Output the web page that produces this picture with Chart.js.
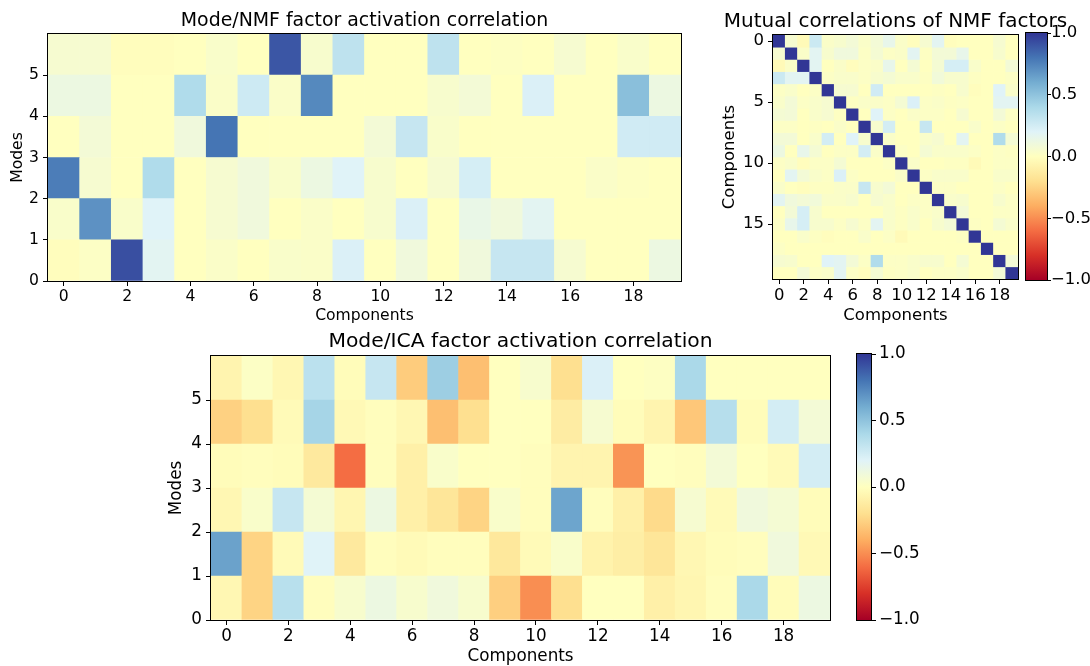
<!DOCTYPE html>
<html><head><meta charset="utf-8">
<script src="https://cdn.jsdelivr.net/npm/chart.js@4.4.1/dist/chart.umd.min.js"></script>
<style>
html,body{margin:0;padding:0;background:#fff;overflow:hidden;width:1090px;height:666px;position:relative;}
canvas{position:absolute;}
</style></head><body>
<canvas id="nmfAct"></canvas>
<canvas id="nmfMutualChart"></canvas>
<canvas id="cbarTop"></canvas>
<canvas id="icaAct"></canvas>
<canvas id="cbarBottom"></canvas>
<script>
// ---------- DATA ----------
const components = ['0','1','2','3','4','5','6','7','8','9','10','11','12','13','14','15','16','17','18','19'];
const componentTicks = [0, 2, 4, 6, 8, 10, 12, 14, 16, 18];
const modeTicks = [0, 1, 2, 3, 4, 5];
const mutualTicks = [0, 5, 10, 15];
const cbarTicks = [-1, -0.5, 0, 0.5, 1];

// Mode/NMF factor activation correlation (mode 0 .. mode 5)
const nmfMode0 = [-0.01, 0.02, 0.92, 0.18, 0.0, 0.03, 0.0, 0.04, 0.03, 0.22, 0.0, 0.1, 0.0, 0.1, 0.3, 0.3, 0.06, 0.0, 0.0, 0.12];
const nmfMode1 = [0.04, 0.7, 0.04, 0.2, 0.0, 0.06, 0.1, 0.0, 0.03, 0.0, 0.05, 0.22, 0.0, 0.14, 0.1, 0.18, 0.0, 0.0, 0.0, 0.0];
const nmfMode2 = [0.77, 0.06, 0.0, 0.38, 0.0, 0.06, 0.1, 0.04, 0.12, 0.2, 0.05, 0.0, 0.06, 0.24, 0.0, 0.0, 0.0, 0.03, 0.01, 0.0];
const nmfMode3 = [0.0, 0.08, 0.0, 0.0, 0.1, 0.8, 0.0, 0.0, 0.0, 0.0, 0.08, 0.3, 0.04, 0.0, 0.0, 0.0, 0.0, 0.0, 0.26, 0.26];
const nmfMode4 = [0.12, 0.12, 0.0, 0.0, 0.38, 0.03, 0.27, 0.03, 0.73, 0.0, 0.0, 0.0, 0.05, 0.08, 0.0, 0.22, 0.0, 0.0, 0.52, 0.12];
const nmfMode5 = [0.06, 0.06, -0.01, -0.01, 0.0, 0.04, 0.0, 0.9, 0.05, 0.33, 0.0, 0.0, 0.33, 0.0, 0.01, 0.0, 0.06, 0.0, 0.04, 0.0];

// Mode/ICA factor activation correlation (mode 0 .. mode 5)
const icaMode0 = [-0.05, -0.25, 0.35, -0.01, 0.05, 0.12, 0.05, 0.1, 0.05, -0.27, -0.5, -0.2, 0.0, 0.0, -0.1, -0.06, -0.01, 0.4, -0.02, 0.12];
const icaMode1 = [0.64, -0.25, -0.03, 0.2, -0.14, -0.01, -0.03, -0.01, -0.01, -0.15, -0.03, 0.04, -0.08, -0.11, -0.16, -0.05, -0.02, -0.01, 0.1, -0.04];
const icaMode2 = [-0.05, 0.04, 0.3, 0.07, -0.06, 0.12, -0.1, -0.16, -0.25, 0.04, -0.01, 0.63, -0.01, -0.1, -0.22, 0.06, -0.03, 0.1, 0.07, -0.02];
const icaMode3 = [-0.02, -0.01, -0.02, -0.14, -0.6, -0.01, -0.1, 0.04, 0.0, 0.0, -0.01, -0.07, -0.07, -0.48, 0.0, -0.01, 0.08, 0.0, -0.03, 0.25];
const icaMode4 = [-0.26, -0.2, -0.03, 0.42, -0.04, -0.01, -0.05, -0.33, -0.2, 0.0, 0.0, -0.12, 0.06, -0.02, -0.07, -0.3, 0.36, -0.02, 0.25, 0.08];
const icaMode5 = [-0.07, 0.02, -0.05, 0.34, -0.02, 0.3, -0.28, 0.45, -0.33, 0.0, 0.05, -0.2, 0.22, 0.0, 0.01, 0.4, 0.0, 0.0, 0.0, 0.0];

// Mutual correlations of NMF factors (row 0 .. row 19)
const nmfMutual = [
  [1, 0.06, -0.03, 0.28, 0.03, 0.05, 0.08, 0.03, 0.08, 0.15, 0.03, -0.01, 0.06, 0.18, -0.01, 0.0, 0.0, 0.0, 0.06, 0.0],
  [0.06, 1, 0.03, 0.18, 0.05, 0.1, 0.1, 0.02, 0.07, 0.02, 0.03, 0.18, 0.01, 0.08, 0.08, 0.15, 0.0, 0.0, 0.05, 0.0],
  [-0.03, 0.03, 1, 0.18, 0.0, 0.03, -0.01, 0.02, 0.03, 0.15, 0.0, 0.07, 0.0, 0.07, 0.24, 0.24, 0.04, 0.0, 0.0, 0.08],
  [0.28, 0.18, 0.18, 1, 0.02, 0.04, 0.04, 0.02, 0.05, 0.07, 0.04, 0.04, 0.01, 0.09, 0.05, 0.05, 0.01, 0.0, 0.0, 0.02],
  [0.02, 0.04, 0.0, 0.02, 1, 0.06, 0.06, 0.0, 0.26, 0.0, 0.0, 0.0, 0.0, 0.01, 0.0, 0.05, -0.01, 0.0, 0.2, 0.04],
  [0.04, 0.08, 0.02, 0.04, 0.06, 1, 0.01, 0.03, 0.03, 0.02, 0.07, 0.22, 0.02, 0.03, 0.01, 0.02, 0.0, 0.0, 0.18, 0.18],
  [0.07, 0.08, 0.0, 0.04, 0.06, 0.01, 1, 0.0, 0.2, 0.02, 0.0, 0.03, 0.02, 0.02, 0.0, 0.06, 0.0, 0.0, 0.08, 0.02],
  [0.02, 0.02, 0.0, 0.01, 0.0, 0.03, 0.0, 1, 0.05, 0.25, 0.0, 0.0, 0.3, 0.0, 0.0, 0.0, 0.04, 0.0, 0.02, 0.0],
  [0.08, 0.08, 0.0, 0.04, 0.25, 0.0, 0.2, 0.05, 1, 0.03, 0.0, 0.0, 0.04, 0.06, 0.0, 0.18, 0.0, 0.0, 0.38, 0.07],
  [0.12, 0.0, 0.15, 0.07, 0.0, 0.02, 0.02, 0.25, 0.03, 1, 0.02, 0.0, 0.07, 0.04, 0.04, 0.04, 0.02, 0.0, 0.02, 0.01],
  [0.02, 0.04, -0.01, 0.02, 0.02, 0.07, 0.0, 0.0, 0.0, 0.02, 1, 0.03, 0.0, 0.0, 0.01, 0.01, -0.03, 0.0, 0.02, 0.02],
  [0.0, 0.18, 0.08, 0.04, 0.02, 0.22, 0.02, 0.0, 0.0, 0.0, 0.03, 1, 0.02, 0.04, 0.04, 0.04, 0.0, 0.0, 0.04, 0.04],
  [0.04, 0.0, -0.01, 0.01, 0.01, 0.03, 0.03, 0.3, 0.05, 0.08, 0.0, 0.0, 1, 0.02, 0.02, 0.0, 0.0, 0.0, 0.02, 0.0],
  [0.18, 0.1, 0.08, 0.09, 0.03, 0.03, 0.05, 0.0, 0.06, 0.04, 0.0, 0.02, 0.02, 1, 0.04, 0.05, 0.0, 0.0, 0.05, 0.02],
  [0.0, 0.08, 0.24, 0.05, 0.0, 0.0, 0.0, 0.0, 0.0, 0.04, 0.01, 0.04, 0.02, 0.04, 1, 0.08, 0.0, 0.0, 0.02, 0.02],
  [0.02, 0.15, 0.24, 0.05, 0.05, 0.02, 0.06, 0.02, 0.18, 0.04, 0.01, 0.04, 0.0, 0.05, 0.08, 1, 0.01, 0.0, 0.07, 0.04],
  [0.0, 0.0, 0.04, 0.01, -0.01, 0.0, 0.0, 0.04, 0.0, 0.02, -0.03, 0.0, 0.0, 0.0, 0.0, 0.01, 1, 0.0, 0.0, 0.0],
  [0.02, 0.0, 0.0, 0.0, 0.0, 0.0, 0.0, 0.0, 0.0, 0.0, 0.0, 0.0, 0.0, 0.0, 0.0, 0.0, 0.0, 1, 0.0, 0.0],
  [0.06, 0.05, 0.0, 0.0, 0.2, 0.18, 0.08, 0.02, 0.38, 0.02, 0.02, 0.04, 0.05, 0.05, 0.0, 0.07, 0.0, 0.0, 1, 0.08],
  [0.0, 0.0, 0.08, 0.02, 0.04, 0.18, 0.02, -0.01, 0.07, 0.01, 0.02, 0.04, 0.0, 0.02, 0.02, 0.04, 0.0, 0.0, 0.08, 1]
];

// ---------- STYLE ----------
const RdYlBu = ['#a50026','#d73027','#f46d43','#fdae61','#fee090','#ffffbf','#e0f3f8','#abd9e9','#74add1','#4575b4','#313695'];
const FAMILY = '"DejaVu Sans", sans-serif';
const font = (size) => ({family: FAMILY, size: size, weight: 'normal', lineHeight: 1.2});

function hexRgb(h) { return [parseInt(h.slice(1,3),16), parseInt(h.slice(3,5),16), parseInt(h.slice(5,7),16)]; }
const stopsRgb = RdYlBu.map(hexRgb);
function cmap(v) {
  let t = (v + 1) / 2; t = Math.max(0, Math.min(1, t));
  const p = t * 10; const i = Math.min(9, Math.floor(p)); const f = p - i;
  const a = stopsRgb[i], b = stopsRgb[i + 1];
  const c = a.map((x, k) => Math.round(x + (b[k] - x) * f));
  return `rgb(${c[0]},${c[1]},${c[2]})`;
}
function fmtCbar(v) { return v.toFixed(1).replace('-', '\u2212'); }

const framePlugin = {
  id: 'frame',
  afterDatasetsDraw(chart) {
    const {ctx, chartArea: a} = chart;
    ctx.save();
    ctx.strokeStyle = '#000';
    ctx.lineWidth = 1;
    ctx.strokeRect(a.left - 0.5, a.top - 0.5, a.right - a.left + 1, a.bottom - a.top + 1);
    ctx.restore();
  }
};

function placeCanvas(id, box) {
  const cv = document.getElementById(id);
  cv.style.left = box.x + 'px'; cv.style.top = box.y + 'px';
  cv.width = box.w; cv.height = box.h;
  cv.style.width = box.w + 'px'; cv.style.height = box.h + 'px';
  return cv;
}

function heatmap(id, box, area, rows, cfg) {
  const cv = placeCanvas(id, box);
  const yW = area.l - box.x, padW = box.x + box.w - area.r, xH = box.y + box.h - area.b;
  const titleH = area.t - box.y;
  const tickFont = font(cfg.tickSize), titleFont = font(cfg.titleSize);
  const tLH = cfg.titleSize * 1.2, aHalf = cfg.tickSize * 0.6;
  const datasets = rows.map((vals, r) => ({
    data: vals.map(() => [r, r + 1]),
    backgroundColor: vals.map(cmap),
    borderWidth: 0, grouped: false, barPercentage: 1, categoryPercentage: 1
  }));
  const titleTop = cfg.titleCenter - box.y - tLH / 2;
  return new Chart(cv, {
    type: 'bar',
    data: {labels: components, datasets},
    options: {
      responsive: false, animation: false, events: [],
      layout: {padding: 0},
      plugins: {
        legend: {display: false}, tooltip: {enabled: false},
        title: {display: true, text: cfg.title, font: titleFont, color: '#000',
                padding: {top: titleTop, bottom: titleH - titleTop - tLH}}
      },
      scales: {
        x: {
          type: 'category', offset: true,
          grid: {display: true, drawOnChartArea: false, offset: false, tickLength: 5, color: '#000'},
          border: {display: false},
          ticks: {autoSkip: false, maxRotation: 0, padding: 2, font: tickFont, color: '#000'},
          title: {display: true, text: 'Components', font: tickFont, color: '#000',
                  padding: {top: 0, bottom: box.y + box.h - aHalf - cfg.xTitleCenter}},
          afterBuildTicks: s => { s.ticks = s.ticks.filter(t => componentTicks.includes(t.value)); },
          afterFit: s => { s.height = xH; s.paddingLeft = 0; s.paddingRight = 0; }
        },
        y: {
          type: 'linear', position: 'left', min: 0, max: cfg.yMax, reverse: cfg.reverse,
          grid: {display: true, drawOnChartArea: false, tickLength: 5, color: '#000'},
          border: {display: false},
          ticks: {autoSkip: false, padding: 4, font: tickFont, color: '#000',
                  callback: v => String(Math.round(v - cfg.yOff))},
          title: {display: true, text: cfg.yTitle, font: tickFont, color: '#000',
                  padding: {top: cfg.yTitleCenter - box.x - aHalf, bottom: 0}},
          afterBuildTicks: s => { s.ticks = cfg.yTicks.map(v => ({value: v + cfg.yOff})); },
          afterFit: s => { s.width = yW; s.paddingTop = 0; s.paddingBottom = 0; }
        },
        pad: {
          type: 'linear', position: 'right', display: true,
          grid: {display: false}, ticks: {display: false}, border: {display: false},
          afterFit: s => { s.width = padW; s.paddingTop = 0; s.paddingBottom = 0; }
        }
      }
    },
    plugins: [framePlugin]
  });
}

function colorbar(id, box, area, cfg) {
  const cv = placeCanvas(id, box);
  return new Chart(cv, {
    type: 'bar',
    data: {labels: [''], datasets: [{
      data: [[-1, 1]], borderWidth: 0, barPercentage: 1, categoryPercentage: 1,
      backgroundColor: (c) => {
        const ch = c.chart; const a = ch.chartArea;
        if (!a) return RdYlBu[5];
        const g = ch.ctx.createLinearGradient(0, a.bottom, 0, a.top);
        RdYlBu.forEach((col, i) => g.addColorStop(i / 10, col));
        return g;
      }
    }]},
    options: {
      responsive: false, animation: false, events: [],
      layout: {padding: {left: area.l - box.x, top: area.t - box.y, bottom: box.y + box.h - area.b, right: 0}},
      plugins: {legend: {display: false}, tooltip: {enabled: false}},
      scales: {
        x: {display: false, offset: true},
        y: {
          position: 'right', min: -1, max: 1,
          grid: {display: true, drawOnChartArea: false, tickLength: cfg.tickLength, color: '#000'},
          border: {display: false},
          ticks: {autoSkip: false, padding: cfg.tickPad, font: font(cfg.tickSize), color: '#000', callback: v => fmtCbar(v)},
          afterBuildTicks: s => { s.ticks = cbarTicks.map(v => ({value: v})); },
          afterFit: s => { s.width = box.x + box.w - area.r; s.paddingTop = 0; s.paddingBottom = 0; }
        }
      }
    },
    plugins: [framePlugin]
  });
}

heatmap('nmfAct', {x: 0, y: 0, w: 729, h: 330}, {l: 48, t: 34, r: 681, b: 281},
  [nmfMode0, nmfMode1, nmfMode2, nmfMode3, nmfMode4, nmfMode5],
  {title: 'Mode/NMF factor activation correlation', titleSize: 18.9, tickSize: 15.6, titleCenter: 20.7,
   yMax: 6, reverse: false, yTicks: modeTicks, yOff: 0, yTitle: 'Modes', yTitleCenter: 17.8, xTitleCenter: 315.5});

heatmap('nmfMutualChart', {x: 701, y: 0, w: 389, h: 330}, {l: 773, t: 35, r: 1018, b: 279},
  nmfMutual,
  {title: 'Mutual correlations of NMF factors', titleSize: 20, tickSize: 16.5, titleCenter: 21.3,
   yMax: 20, reverse: true, yTicks: mutualTicks, yOff: 0.5, yTitle: 'Components', yTitleCenter: 730, xTitleCenter: 316});

colorbar('cbarTop', {x: 1020, y: 0, w: 70, h: 330}, {l: 1026, t: 33, r: 1047, b: 280},
  {tickSize: 16.5, tickLength: 4, tickPad: 0});

heatmap('icaAct', {x: 150, y: 325, w: 741, h: 341}, {l: 211, t: 356, r: 830, b: 620},
  [icaMode0, icaMode1, icaMode2, icaMode3, icaMode4, icaMode5],
  {title: 'Mode/ICA factor activation correlation', titleSize: 20.3, tickSize: 16.8, titleCenter: 341.7,
   yMax: 6, reverse: false, yTicks: modeTicks, yOff: 0, yTitle: 'Modes', yTitleCenter: 176.7, xTitleCenter: 656.5});

colorbar('cbarBottom', {x: 850, y: 330, w: 80, h: 336}, {l: 857, t: 354, r: 871, b: 620},
  {tickSize: 16.8, tickLength: 5, tickPad: 3});
</script>
</body></html>
